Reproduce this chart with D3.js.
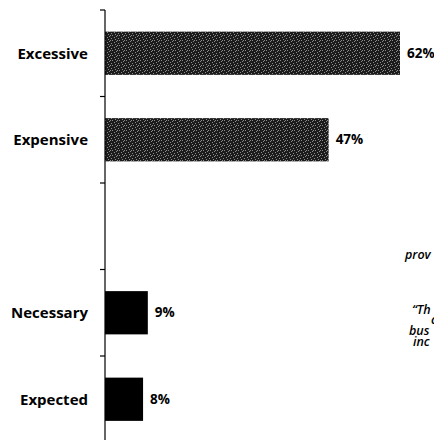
<!DOCTYPE html>
<html>
<head>
<meta charset="utf-8">
<script src="https://cdn.jsdelivr.net/npm/d3@7"></script>
<style>
  body { margin: 0; background: #fff; }
  svg { display: block; }
</style>
</head>
<body>
<div id="chart"></div>
<script>
// chart data
var categories = ["Excessive", "Expensive", "", "Necessary", "Expected"];
var values = [62, 47, null, 9, 8];
var textured = [true, true, false, false, false];
// cut-off side note on the right edge
var noteLines = ["prov", "\u201cTh", "c", "bus", "inc"];

var width = 434, height = 440;

var svg = d3.select("#chart").append("svg")
  .attr("width", width).attr("height", height);

// speckled dark fill like the scanned bars
var defs = svg.append("defs");
var pat = defs.append("pattern").attr("id", "speckle")
  .attr("patternUnits", "userSpaceOnUse").attr("width", 7).attr("height", 5);
pat.append("rect").attr("width", 7).attr("height", 5).attr("fill", "#1c1c1c");
[[0, 0], [4, 1], [2, 2], [6, 3], [3, 4], [5, 0]].forEach(function (p) {
  pat.append("rect").attr("x", p[0]).attr("y", p[1])
    .attr("width", 1).attr("height", 1).attr("fill", "#8c8c8c");
});

var x = d3.scaleLinear().domain([0, 62]).range([105, 400]);
var y = d3.scaleBand().domain(d3.range(categories.length))
  .range([10, 442.5]).paddingInner(0.5).paddingOuter(0.25);

var barData = values.map(function (v, i) { return { v: v, i: i }; })
  .filter(function (d) { return d.v != null; });

// bars
svg.selectAll("rect.bar")
  .data(barData)
  .enter().append("rect")
  .attr("class", "bar")
  .attr("x", x(0))
  .attr("y", function (d) { return y(d.i); })
  .attr("width", function (d) { return x(d.v) - x(0); })
  .attr("height", y.bandwidth())
  .attr("fill", function (d) { return textured[d.i] ? "url(#speckle)" : "#000"; });

// value labels
svg.selectAll("text.val")
  .data(barData)
  .enter().append("text")
  .attr("class", "val")
  .attr("x", function (d) { return x(d.v) + 7; })
  .attr("y", function (d) { return y(d.i) + y.bandwidth() / 2; })
  .attr("dy", "0.35em")
  .attr("font-family", "'Open Sans', sans-serif")
  .attr("font-weight", "bold")
  .attr("font-size", 13.5)
  .text(function (d) { return d.v + "%"; });

// category labels
svg.selectAll("text.cat")
  .data(categories.map(function (c, i) { return { c: c, i: i }; }))
  .enter().append("text")
  .attr("class", "cat")
  .attr("x", 88)
  .attr("y", function (d) { return y(d.i) + y.bandwidth() / 2; })
  .attr("dy", "0.35em")
  .attr("text-anchor", "end")
  .attr("font-family", "'Open Sans', sans-serif")
  .attr("font-weight", "bold")
  .attr("font-size", 15)
  .text(function (d) { return d.c; });

// axis line with ticks at category boundaries
var step = y.step();
var y0 = 10;
svg.append("line")
  .attr("x1", x(0)).attr("x2", x(0))
  .attr("y1", y0).attr("y2", height)
  .attr("stroke", "#000").attr("stroke-width", 1.2);
svg.selectAll("line.tick")
  .data(d3.range(categories.length + 1))
  .enter().append("line")
  .attr("class", "tick")
  .attr("x1", x(0) - 5).attr("x2", x(0))
  .attr("y1", function (i) { return y0 + i * step; })
  .attr("y2", function (i) { return y0 + i * step; })
  .attr("stroke", "#000").attr("stroke-width", 1.2);

// side note, cut by the right edge
var notePos = [[405, 259], [412, 314], [431, 324], [409, 335], [413, 346]];
svg.selectAll("text.note")
  .data(noteLines)
  .enter().append("text")
  .attr("class", "note")
  .attr("x", function (d, i) { return notePos[i][0]; })
  .attr("y", function (d, i) { return notePos[i][1]; })
  .attr("font-family", "'Open Sans', sans-serif")
  .attr("font-weight", "600")
  .attr("font-style", "italic")
  .attr("font-size", 12.5)
  .text(function (d) { return d; });
</script>
</body>
</html>
